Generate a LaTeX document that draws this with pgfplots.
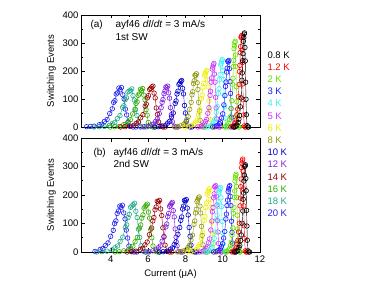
\documentclass[border=0pt]{standalone}
\usepackage{pgfplots}
\pgfplotsset{compat=1.18}
\usepackage{fontspec}
\setmainfont{Liberation Sans}
\definecolor{cA}{HTML}{000000}
\definecolor{cB}{HTML}{FF0000}
\definecolor{cC}{HTML}{66E000}
\definecolor{cD}{HTML}{1A1AFF}
\definecolor{cE}{HTML}{40F0F0}
\definecolor{cF}{HTML}{CC33FF}
\definecolor{cG}{HTML}{EEEE00}
\definecolor{cH}{HTML}{909910}
\definecolor{cI}{HTML}{0000CC}
\definecolor{cJ}{HTML}{8020E0}
\definecolor{cK}{HTML}{990000}
\definecolor{cL}{HTML}{33AA00}
\definecolor{cM}{HTML}{22AA88}
\definecolor{cN}{HTML}{2020F0}
\pgfplotsset{
  swaxis/.style={
    scale only axis, width=179pt,
    xmin=2.4, xmax=12, ymin=0, ymax=400,
    xtick={4,6,8,10,12}, minor x tick num=1,
    ytick={0,100,200,300,400}, minor y tick num=1,
    tick align=inside, major tick length=3.5pt, minor tick length=2pt,
    every tick/.style={black, line width=0.6pt},
    axis line style={line width=0.8pt},
    /pgf/number format/assume math mode=true,
    tick label style={font=\fontsize{9.5}{11}\selectfont},
    label style={font=\fontsize{9.5}{11}\selectfont},
    yticklabel style={xshift=1pt},
    ylabel={Switching Events},
  },
  sw/.style={mark=o, mark size=2.3pt, line width=0.4pt, mark options={line width=0.6pt, solid}},
}
\begin{document}
\begin{tikzpicture}[x=1pt,y=1pt,font=\fontsize{9.5}{11}\selectfont]
\path[use as bounding box] (0,0) rectangle (382,286);
\begin{axis}[swaxis, at={(81pt,159pt)}, anchor=south west, height=112pt, xticklabels={}]
\addplot[sw, color=cN] coordinates {(2.70,1)(2.90,2)(3.10,3)(3.38,8)(3.52,10)(3.66,20)(3.80,27)(3.94,48)(4.08,65)(4.15,88)(4.22,94)(4.29,118)(4.36,122)(4.43,139)(4.50,133)(4.57,141)(4.64,115)(4.71,100)(4.78,64)(4.85,43)(4.92,17)(5.06,3)(5.20,0)(5.34,0)};
\addplot[sw, color=cM] coordinates {(3.09,0)(3.37,1)(3.65,2)(3.93,6)(4.07,12)(4.21,16)(4.35,30)(4.49,41)(4.63,70)(4.70,76)(4.77,97)(4.84,104)(4.91,125)(4.98,128)(5.05,131)(5.12,136)(5.19,112)(5.26,96)(5.33,62)(5.40,41)(5.47,17)(5.61,2)(5.75,0)(5.89,0)};
\addplot[sw, color=cL] coordinates {(3.97,0)(4.21,1)(4.45,2)(4.69,8)(4.81,10)(4.93,19)(5.05,26)(5.17,47)(5.29,63)(5.35,84)(5.41,90)(5.47,113)(5.53,118)(5.59,135)(5.65,130)(5.71,137)(5.77,114)(5.83,97)(5.89,62)(5.95,42)(6.01,16)(6.13,3)(6.25,0)(6.37,0)};
\addplot[sw, color=cK] coordinates {(4.52,0)(4.76,1)(5.00,3)(5.24,6)(5.36,13)(5.48,18)(5.60,33)(5.72,44)(5.84,74)(5.90,82)(5.96,104)(6.02,112)(6.08,134)(6.14,138)(6.20,143)(6.26,146)(6.32,121)(6.38,104)(6.44,68)(6.50,45)(6.56,18)(6.68,2)(6.80,0)(6.92,0)};
\addplot[sw, color=cJ] coordinates {(5.60,0)(5.80,1)(6.00,3)(6.20,8)(6.30,11)(6.40,20)(6.50,29)(6.60,48)(6.70,69)(6.75,88)(6.80,98)(6.85,119)(6.90,128)(6.95,143)(7.00,140)(7.05,146)(7.10,122)(7.15,103)(7.20,69)(7.25,44)(7.30,19)(7.40,3)(7.50,0)(7.60,0)};
\addplot[sw, color=cI] coordinates {(6.35,0)(6.55,1)(6.75,4)(6.95,7)(7.05,14)(7.15,20)(7.25,36)(7.35,50)(7.45,84)(7.50,93)(7.55,118)(7.60,128)(7.65,152)(7.70,156)(7.75,163)(7.80,166)(7.85,138)(7.90,118)(7.95,77)(8.00,50)(8.05,21)(8.15,3)(8.25,0)(8.35,0)};
\addplot[sw, color=cH] coordinates {(7.43,0)(7.59,1)(7.75,4)(7.91,10)(7.99,14)(8.07,26)(8.15,37)(8.23,63)(8.31,88)(8.35,115)(8.39,126)(8.43,155)(8.47,165)(8.51,185)(8.55,184)(8.59,190)(8.63,158)(8.67,134)(8.71,88)(8.75,57)(8.79,24)(8.87,3)(8.95,0)(9.03,0)};
\addplot[sw, color=cG] coordinates {(7.98,0)(8.14,1)(8.30,5)(8.46,9)(8.54,17)(8.62,24)(8.70,44)(8.78,61)(8.86,101)(8.90,114)(8.94,142)(8.98,156)(9.02,184)(9.06,190)(9.10,197)(9.14,202)(9.18,168)(9.22,143)(9.26,94)(9.30,60)(9.34,26)(9.42,3)(9.50,0)(9.58,0)};
\addplot[sw, color=cF] coordinates {(8.66,0)(8.78,1)(8.90,5)(9.02,10)(9.08,19)(9.14,27)(9.20,49)(9.26,69)(9.32,113)(9.35,128)(9.38,160)(9.41,175)(9.44,207)(9.47,214)(9.50,222)(9.53,227)(9.56,189)(9.59,160)(9.62,106)(9.65,68)(9.68,29)(9.74,3)(9.80,0)(9.86,0)};
\addplot[sw, color=cE] coordinates {(9.11,0)(9.23,1)(9.35,5)(9.47,11)(9.53,20)(9.59,29)(9.65,52)(9.71,74)(9.77,120)(9.80,137)(9.83,170)(9.86,187)(9.89,221)(9.92,228)(9.95,236)(9.98,241)(10.01,202)(10.04,170)(10.07,113)(10.10,72)(10.13,31)(10.19,3)(10.25,0)(10.31,0)};
\addplot[sw, color=cD] coordinates {(9.46,0)(9.58,1)(9.70,5)(9.82,12)(9.88,18)(9.94,32)(10.00,47)(10.06,79)(10.12,112)(10.15,145)(10.18,161)(10.21,196)(10.24,210)(10.27,235)(10.30,232)(10.33,238)(10.36,208)(10.39,162)(10.42,120)(10.45,66)(10.48,35)(10.54,3)(10.60,0)(10.66,0)};
\addplot[sw, color=cC] coordinates {(10.09,0)(10.17,1)(10.25,7)(10.33,14)(10.37,26)(10.41,37)(10.45,66)(10.49,94)(10.53,153)(10.55,174)(10.57,216)(10.59,238)(10.61,280)(10.63,290)(10.65,302)(10.67,306)(10.69,257)(10.71,216)(10.73,144)(10.75,91)(10.77,40)(10.81,4)(10.85,0)(10.89,0)};
\addplot[sw, color=cB] coordinates {(10.44,0)(10.52,1)(10.60,6)(10.68,17)(10.72,25)(10.76,44)(10.80,64)(10.84,108)(10.88,152)(10.90,198)(10.92,220)(10.94,266)(10.96,287)(10.98,320)(11.00,322)(11.02,327)(11.04,275)(11.06,230)(11.08,154)(11.10,97)(11.12,43)(11.16,4)(11.20,0)(11.24,0)};
\addplot[sw, color=cA] coordinates {(10.59,0)(10.67,1)(10.75,7)(10.83,16)(10.87,28)(10.91,41)(10.95,72)(10.99,104)(11.03,167)(11.05,193)(11.07,237)(11.09,262)(11.11,306)(11.13,320)(11.15,332)(11.17,336)(11.19,284)(11.21,236)(11.23,160)(11.25,99)(11.27,44)(11.31,5)(11.35,0)(11.39,0)};
\end{axis}
\begin{axis}[swaxis, at={(81pt,34pt)}, anchor=south west, height=114pt, xlabel={Current (μA)}]
\addplot[sw, color=cN] coordinates {(3.15,2)(3.43,9)(3.57,12)(3.71,23)(3.85,32)(3.99,55)(4.13,76)(4.20,100)(4.27,109)(4.34,135)(4.41,144)(4.48,161)(4.55,157)(4.62,164)(4.69,137)(4.76,116)(4.83,77)(4.90,49)(4.97,21)(5.11,2)(5.25,0)(5.39,0)};
\addplot[sw, color=cM] coordinates {(3.24,0)(3.52,1)(3.80,3)(4.08,8)(4.22,15)(4.36,21)(4.50,37)(4.64,52)(4.78,86)(4.85,95)(4.92,121)(4.99,132)(5.06,157)(5.13,162)(5.20,166)(5.27,171)(5.34,143)(5.41,121)(5.48,80)(5.55,51)(5.62,22)(5.76,2)(5.90,0)(6.04,0)};
\addplot[sw, color=cL] coordinates {(4.22,0)(4.46,1)(4.70,4)(4.94,7)(5.06,14)(5.18,20)(5.30,36)(5.42,51)(5.54,84)(5.60,95)(5.66,119)(5.72,130)(5.78,154)(5.84,159)(5.90,164)(5.96,168)(6.02,140)(6.08,119)(6.14,79)(6.20,50)(6.26,21)(6.38,3)(6.50,0)(6.62,0)};
\addplot[sw, color=cK] coordinates {(4.87,0)(5.11,1)(5.35,3)(5.59,10)(5.71,13)(5.83,25)(5.95,35)(6.07,61)(6.19,84)(6.25,109)(6.31,121)(6.37,148)(6.43,158)(6.49,178)(6.55,176)(6.61,181)(6.67,151)(6.73,128)(6.79,85)(6.85,54)(6.91,24)(7.03,2)(7.15,0)(7.27,0)};
\addplot[sw, color=cJ] coordinates {(5.85,0)(6.05,1)(6.25,4)(6.45,8)(6.55,15)(6.65,21)(6.75,38)(6.85,53)(6.95,88)(7.00,98)(7.05,124)(7.10,135)(7.15,160)(7.20,165)(7.25,170)(7.30,174)(7.35,145)(7.40,123)(7.45,81)(7.50,52)(7.55,22)(7.65,2)(7.75,0)(7.85,0)};
\addplot[sw, color=cI] coordinates {(6.60,0)(6.80,1)(7.00,3)(7.20,10)(7.30,14)(7.40,26)(7.50,36)(7.60,62)(7.70,86)(7.75,111)(7.80,123)(7.85,151)(7.90,161)(7.95,181)(8.00,179)(8.05,184)(8.10,154)(8.15,130)(8.20,86)(8.25,55)(8.30,24)(8.40,2)(8.50,0)(8.60,0)};
\addplot[sw, color=cH] coordinates {(7.58,0)(7.74,1)(7.90,4)(8.06,9)(8.14,16)(8.22,24)(8.30,42)(8.38,59)(8.46,97)(8.50,109)(8.54,137)(8.58,150)(8.62,177)(8.66,183)(8.70,189)(8.74,193)(8.78,161)(8.82,137)(8.86,90)(8.90,58)(8.94,25)(9.02,3)(9.10,0)(9.18,0)};
\addplot[sw, color=cG] coordinates {(8.13,0)(8.29,1)(8.45,5)(8.61,10)(8.69,19)(8.77,27)(8.85,48)(8.93,68)(9.01,111)(9.05,125)(9.09,156)(9.13,172)(9.17,203)(9.21,210)(9.25,217)(9.29,222)(9.33,185)(9.37,156)(9.41,104)(9.45,66)(9.49,28)(9.57,3)(9.65,0)(9.73,0)};
\addplot[sw, color=cF] coordinates {(8.76,0)(8.88,1)(9.00,5)(9.12,12)(9.18,18)(9.24,32)(9.30,46)(9.36,77)(9.42,109)(9.45,141)(9.48,156)(9.51,190)(9.54,204)(9.57,229)(9.60,228)(9.63,233)(9.66,196)(9.69,165)(9.72,110)(9.75,70)(9.78,30)(9.84,3)(9.90,0)(9.96,0)};
\addplot[sw, color=cE] coordinates {(9.01,0)(9.13,1)(9.25,4)(9.37,12)(9.43,17)(9.49,30)(9.55,48)(9.61,70)(9.67,113)(9.70,129)(9.73,159)(9.76,176)(9.79,206)(9.82,214)(9.85,222)(9.88,226)(9.91,190)(9.94,159)(9.97,107)(10.00,67)(10.03,29)(10.09,3)(10.15,0)(10.21,0)};
\addplot[sw, color=cD] coordinates {(9.51,0)(9.63,1)(9.75,5)(9.87,11)(9.93,19)(9.99,29)(10.05,49)(10.11,72)(10.17,116)(10.20,133)(10.23,163)(10.26,182)(10.29,212)(10.32,221)(10.35,229)(10.38,233)(10.41,195)(10.44,163)(10.47,108)(10.50,69)(10.53,31)(10.59,3)(10.65,0)(10.71,0)};
\addplot[sw, color=cC] coordinates {(10.14,0)(10.22,1)(10.30,6)(10.38,13)(10.42,23)(10.46,34)(10.50,59)(10.54,84)(10.58,136)(10.60,156)(10.62,192)(10.64,214)(10.66,249)(10.68,260)(10.70,268)(10.72,273)(10.74,230)(10.76,192)(10.78,129)(10.80,81)(10.82,36)(10.86,3)(10.90,0)(10.94,0)};
\addplot[sw, color=cB] coordinates {(10.49,0)(10.57,1)(10.65,7)(10.73,16)(10.77,27)(10.81,41)(10.85,70)(10.89,101)(10.93,162)(10.95,189)(10.97,229)(10.99,256)(11.01,296)(11.03,312)(11.05,320)(11.07,326)(11.09,284)(11.11,222)(11.13,162)(11.15,92)(11.17,47)(11.21,4)(11.25,0)(11.29,0)};
\addplot[sw, color=cA] coordinates {(10.64,0)(10.72,1)(10.80,6)(10.88,16)(10.92,23)(10.96,40)(11.00,60)(11.04,101)(11.08,144)(11.10,185)(11.12,207)(11.14,249)(11.16,270)(11.18,300)(11.20,302)(11.22,306)(11.24,258)(11.26,215)(11.28,146)(11.30,91)(11.32,41)(11.36,4)(11.40,0)(11.44,0)};
\end{axis}
% panel annotations
\node[anchor=base west, font=\fontsize{10}{12}\selectfont] at (87,258) {(a)};
\node[anchor=base west, font=\fontsize{10}{12}\selectfont] at (112,258) {ayf46 \textit{dI}/\textit{dt} = 3 mA/s};
\node[anchor=base west, font=\fontsize{10}{12}\selectfont] at (112,245) {1st SW};
\node[anchor=base west, font=\fontsize{10}{12}\selectfont] at (90,130) {(b)};
\node[anchor=base west, font=\fontsize{10}{12}\selectfont] at (110,130) {ayf46 \textit{dI}/\textit{dt} = 3 mA/s};
\node[anchor=base west, font=\fontsize{10}{12}\selectfont] at (110,118) {2nd SW};
% temperature labels
\node[anchor=west, text=cA] at (264,231.0) {0.8 K};
\node[anchor=west, text=cB] at (264,218.8) {1.2 K};
\node[anchor=west, text=cC] at (264,206.6) {2 K};
\node[anchor=west, text=cD] at (264,194.5) {3 K};
\node[anchor=west, text=cE] at (264,182.3) {4 K};
\node[anchor=west, text=cF] at (264,170.1) {5 K};
\node[anchor=west, text=cG] at (264,157.9) {6 K};
\node[anchor=west, text=cH] at (264,145.7) {8 K};
\node[anchor=west, text=cI] at (264,133.5) {10 K};
\node[anchor=west, text=cJ] at (264,121.4) {12 K};
\node[anchor=west, text=cK] at (264,109.2) {14 K};
\node[anchor=west, text=cL] at (264,97.0) {16 K};
\node[anchor=west, text=cM] at (264,84.8) {18 K};
\node[anchor=west, text=cN] at (264,72.6) {20 K};
\end{tikzpicture}
\end{document}
